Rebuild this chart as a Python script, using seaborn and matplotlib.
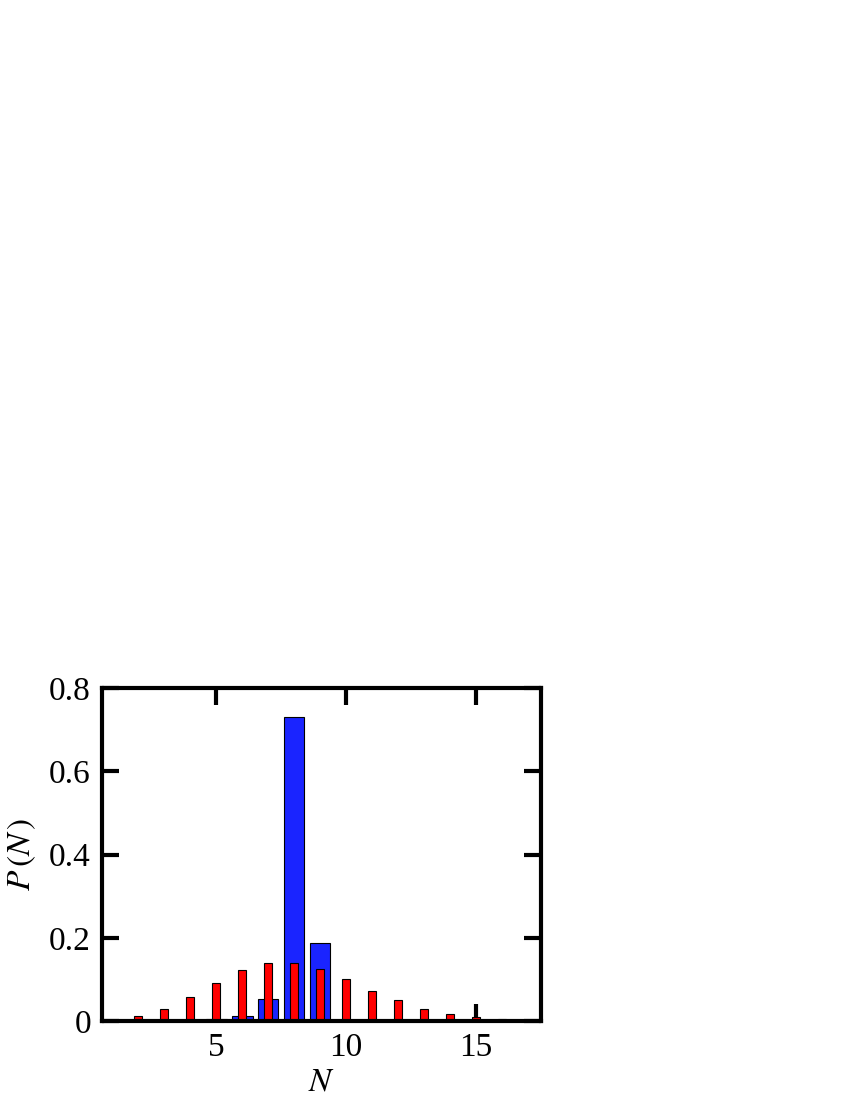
import matplotlib
matplotlib.use('Agg')
import matplotlib.pyplot as plt
import pandas as pd
import seaborn as sns

# Distribucion P(N)
n_vals = list(range(1, 17))
p_blue = [0.003, 0.002, 0.003, 0.003, 0.005, 0.013, 0.052, 0.73, 0.187,
          0.002, 0.0, 0.0, 0.0, 0.0, 0.0, 0.0]
p_red = [0.003, 0.012, 0.030, 0.057, 0.092, 0.122, 0.140, 0.140, 0.125,
         0.100, 0.072, 0.050, 0.030, 0.018, 0.010, 0.005]

df = pd.DataFrame({'N': n_vals, 'blue': p_blue, 'red': p_red})

sns.set_style('white')
plt.rcParams['font.family'] = ['Liberation Serif', 'DejaVu Serif']
plt.rcParams['mathtext.fontset'] = 'stix'
plt.rcParams['text.color'] = 'black'
plt.rcParams['axes.labelcolor'] = 'black'
plt.rcParams['xtick.color'] = 'black'
plt.rcParams['ytick.color'] = 'black'

fig = plt.figure(figsize=(8.5, 11), dpi=100)
ax = fig.add_axes([0.12, 0.0718, 0.516, 0.3027])

sns.barplot(data=df, x='N', y='blue', native_scale=True, width=0.8,
            color='#1a24ff', saturation=1, edgecolor='black', linewidth=0.8, ax=ax)
sns.barplot(data=df, x='N', y='red', native_scale=True, width=0.3,
            color='#ff0000', saturation=1, edgecolor='black', linewidth=0.8, ax=ax)

ax.set_xlim(0.6, 17.5)
ax.set_ylim(0, 0.8)
ax.set_xticks([5, 10, 15])
ax.set_yticks([0, 0.2, 0.4, 0.6, 0.8])
ax.set_yticklabels(['0', '0.2', '0.4', '0.6', '0.8'])
ax.tick_params(direction='in', length=12, width=3, labelsize=24,
               top=True, right=True, bottom=True, left=True, pad=8)
for s in ax.spines.values():
    s.set_linewidth(3)
    s.set_color('black')

ax.set_xlabel('$N$', fontsize=24, labelpad=3)
ax.set_ylabel('$P\\,(N\\,)$', fontsize=24, labelpad=8)

fig.savefig('out.png', dpi=100)
